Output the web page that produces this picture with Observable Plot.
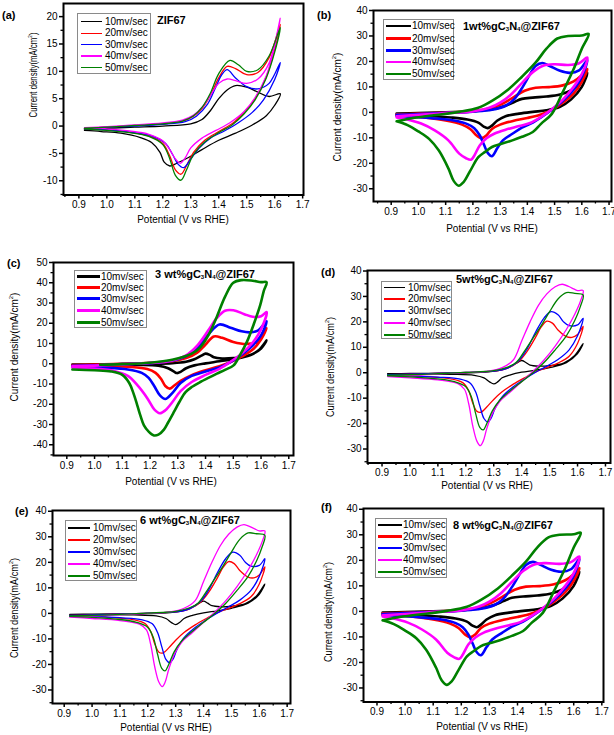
<!DOCTYPE html>
<html><head><meta charset="utf-8">
<script src="https://cdn.jsdelivr.net/npm/d3@7"></script>
<script src="https://cdn.jsdelivr.net/npm/@observablehq/plot@0.6"></script>
<style>
body{margin:0;background:#fff;overflow:hidden;font-family:"Liberation Sans",Arial,sans-serif;color:#000}
#root{position:relative;width:614px;height:735px;overflow:hidden;background:#fff}
.abs{position:absolute;white-space:nowrap;line-height:14px}
.lab{font-weight:bold;font-size:11px}
.ttl{font-weight:bold;font-size:11px}
.ttl sub{font-size:6px;vertical-align:-1px}
.axt{font-size:10px}
.lgbox{position:absolute;border:1px solid #8a8a8a;background:#fff;box-sizing:border-box}
.lgtxt{position:absolute;font-size:10px;line-height:12px;white-space:nowrap}
svg{overflow:visible}
</style></head><body><div id="root"></div>
<script>
// ---- labels ----
const rates = ["10mv/sec","20mv/sec","30mv/sec","40mv/sec","50mv/sec"];
const colors = ["#000000","#ff0000","#0000ff","#ff00ff","#008000"];
const xTicks = [0.9,1.0,1.1,1.2,1.3,1.4,1.5,1.6,1.7];
const xMinor = [0.85,0.95,1.05,1.15,1.25,1.35,1.45,1.55,1.65];
const yTicksA = [-10,-5,0,5,10,15,20];
const yMinorA = [-12.5,-7.5,-2.5,2.5,7.5,12.5,17.5];
const yTicks40 = [-30,-20,-10,0,10,20,30,40];
const yMinor40 = [-35,-25,-15,-5,5,15,25,35];
const yTicks50 = [-40,-30,-20,-10,0,10,20,30,40,50];
const yMinor50 = [-45,-35,-25,-15,-5,5,15,25,35,45];

// ---- (a) ZIF67 ----
const a10 = [[0.92,-0.6],[1.0,-0.4],[1.1,-0.2],[1.2,0.0],[1.3,0.4],[1.34,1.2],[1.37,2.8],[1.4,5.0],[1.43,6.6],[1.46,7.4],[1.5,7.1],[1.54,6.2],[1.58,5.4],[1.62,5.9],
  [1.6,3.8],[1.57,1.9],[1.52,0.2],[1.46,-1.3],[1.4,-2.6],[1.34,-4.3],[1.29,-5.8],[1.25,-6.8],[1.225,-7.3],[1.205,-6.6],[1.19,-4.8],[1.16,-3.0],[1.12,-2.1],[1.05,-1.3],[0.98,-1.0],[0.92,-0.8]];
const a20 = [[0.92,-0.4],[1.0,-0.2],[1.1,0.1],[1.2,0.4],[1.27,0.9],[1.31,1.8],[1.34,3.2],[1.37,5.6],[1.4,8.8],[1.43,10.9],[1.46,10.5],[1.5,9.4],[1.54,9.8],[1.58,12.5],[1.62,18.6],
  [1.6,14],[1.57,9],[1.53,5],[1.49,2.5],[1.45,0.5],[1.4,-1.0],[1.35,-2.6],[1.31,-4.8],[1.285,-7.2],[1.265,-8.8],[1.245,-8.0],[1.225,-5.5],[1.2,-3.2],[1.15,-1.8],[1.08,-1.1],[1.0,-0.7],[0.92,-0.5]];
const a30 = [[0.92,-0.4],[1.0,-0.2],[1.1,0.0],[1.2,0.3],[1.28,0.8],[1.32,1.8],[1.36,4.0],[1.39,7.2],[1.41,9.3],[1.43,10.3],[1.46,8.8],[1.5,7.2],[1.54,6.8],[1.58,7.8],[1.62,11.6],
  [1.6,8.5],[1.56,4.8],[1.52,2.5],[1.47,0.6],[1.42,-0.9],[1.37,-2.2],[1.33,-4.0],[1.3,-6.0],[1.275,-7.6],[1.255,-7.0],[1.235,-5.2],[1.21,-3.2],[1.16,-1.8],[1.08,-1.1],[1.0,-0.7],[0.92,-0.5]];
const a40 = [[0.92,-0.3],[1.0,-0.1],[1.1,0.2],[1.2,0.6],[1.27,1.1],[1.31,2.0],[1.34,3.4],[1.37,5.6],[1.4,7.8],[1.43,8.6],[1.46,8.3],[1.5,7.8],[1.54,8.6],[1.58,11.5],[1.62,19.7],
  [1.6,14.5],[1.57,9.2],[1.53,5.2],[1.49,2.6],[1.44,0.6],[1.39,-0.8],[1.34,-2.2],[1.3,-4.0],[1.28,-5.8],[1.263,-6.8],[1.245,-6.0],[1.225,-4.3],[1.2,-2.7],[1.15,-1.5],[1.08,-0.9],[1.0,-0.5],[0.92,-0.3]];
const a50 = [[0.92,-0.4],[1.0,-0.2],[1.1,0.1],[1.2,0.4],[1.27,0.9],[1.31,1.9],[1.34,3.4],[1.37,6.0],[1.4,9.6],[1.44,12.0],[1.47,11.2],[1.5,10.0],[1.54,10.3],[1.58,12.8],[1.62,18.0],
  [1.6,13.5],[1.57,8.8],[1.53,4.8],[1.49,2.2],[1.45,0.3],[1.4,-1.2],[1.35,-2.9],[1.31,-5.2],[1.285,-8.0],[1.265,-9.9],[1.245,-9.0],[1.225,-6.0],[1.2,-3.4],[1.15,-1.9],[1.08,-1.2],[1.0,-0.8],[0.92,-0.5]];

// ---- (b) and (f) 1wt% / 8wt% gC3N4@ZIF67 ----
const b10 = [[0.92,-0.5],[1.0,-0.3],[1.1,0.0],[1.2,0.4],[1.27,1.2],[1.32,2.6],[1.35,4.0],[1.38,5.3],[1.42,5.8],[1.47,6.2],[1.52,7.0],[1.56,8.6],[1.59,11.2],[1.62,15.5],
  [1.6,10],[1.56,5],[1.52,2.2],[1.47,0.8],[1.42,0.2],[1.37,-0.5],[1.32,-1.5],[1.29,-3.2],[1.27,-5.2],[1.255,-6.2],[1.24,-5.6],[1.22,-4.0],[1.18,-2.8],[1.12,-2.0],[1.04,-1.4],[0.92,-0.9]];
const b20 = [[0.92,-0.8],[1.0,-0.5],[1.1,-0.1],[1.2,0.5],[1.26,1.5],[1.31,3.5],[1.35,6.0],[1.39,8.5],[1.43,9.7],[1.48,9.9],[1.53,10.6],[1.57,12.2],[1.6,14.6],[1.62,17.0],
  [1.6,12],[1.57,7.5],[1.53,3.8],[1.49,1.0],[1.45,-0.8],[1.4,-2.2],[1.35,-3.3],[1.3,-4.8],[1.27,-6.5],[1.25,-9.0],[1.232,-10.1],[1.215,-9.2],[1.19,-6.5],[1.16,-4.8],[1.1,-3.2],[1.02,-2.0],[0.92,-1.2]];
const b30 = [[0.92,-1.0],[1.0,-0.7],[1.1,-0.2],[1.2,0.3],[1.27,1.0],[1.32,2.6],[1.35,5.0],[1.38,9.5],[1.41,15.0],[1.43,18.2],[1.455,19.4],[1.48,18.3],[1.52,16.3],[1.555,15.5],[1.59,16.5],[1.62,20.5],
  [1.6,14],[1.57,9],[1.53,4.5],[1.49,1.0],[1.45,-2.0],[1.42,-4.0],[1.38,-6.0],[1.345,-8.4],[1.31,-11],[1.29,-14],[1.27,-17.2],[1.255,-16],[1.24,-12.5],[1.225,-9],[1.205,-6.2],[1.18,-4.6],[1.13,-3.2],[1.05,-2.3],[0.98,-1.8],[0.92,-1.4]];
const b40 = [[0.92,-1.5],[1.0,-1.0],[1.1,-0.3],[1.2,0.4],[1.26,1.8],[1.3,3.8],[1.34,7.0],[1.38,11.5],[1.42,15.8],[1.46,18.4],[1.5,18.9],[1.55,18.6],[1.59,19.3],[1.62,21.5],
  [1.6,15],[1.57,10],[1.53,5],[1.49,1.2],[1.45,-1.8],[1.41,-4.2],[1.37,-5.4],[1.32,-6.8],[1.28,-8.3],[1.25,-10.2],[1.225,-13],[1.205,-17],[1.193,-18.6],[1.175,-18],[1.15,-16.2],[1.11,-11],[1.06,-7.1],[1.01,-4.4],[0.95,-2.6],[0.92,-2.0]];
const b50 = [[0.92,-3.5],[0.97,-2.4],[1.05,-1.2],[1.15,0.2],[1.22,1.8],[1.27,4.5],[1.33,9],[1.38,14],[1.43,19.5],[1.47,25],[1.51,29],[1.55,30],[1.6,30.2],[1.625,30.8],
  [1.6,25],[1.57,17],[1.53,8],[1.49,-0.6],[1.45,-4.5],[1.42,-7.7],[1.38,-9.6],[1.345,-11],[1.3,-12.5],[1.27,-13.6],[1.245,-15.5],[1.22,-17.6],[1.19,-23],[1.165,-27.5],[1.148,-28.8],[1.13,-27],[1.11,-22],[1.075,-15],[1.04,-10.5],[1.0,-7.5],[0.96,-5.0],[0.92,-3.5]];

// ---- (c) 3wt% gC3N4@ZIF67 ----
const c10 = [[0.92,-0.4],[1.0,-0.3],[1.1,-0.2],[1.2,0.0],[1.28,0.3],[1.33,1.0],[1.36,2.2],[1.385,4.0],[1.4,5.0],[1.415,4.4],[1.43,3.2],[1.46,2.6],[1.5,2.8],[1.55,3.8],[1.59,6.5],[1.62,11.5],
  [1.6,7.5],[1.56,4.2],[1.5,2.3],[1.45,1.2],[1.4,0.2],[1.36,-0.8],[1.33,-2.2],[1.31,-4.0],[1.298,-4.6],[1.285,-3.8],[1.265,-2.2],[1.23,-1.0],[1.15,-0.6],[1.0,-0.4],[0.92,-0.4]];
const c20 = [[0.92,-0.6],[1.0,-0.4],[1.1,0.0],[1.2,0.5],[1.28,1.2],[1.33,2.8],[1.37,5.5],[1.4,9.5],[1.43,13.5],[1.46,12.8],[1.5,10.8],[1.55,9.8],[1.59,11.2],[1.62,17.5],
  [1.6,12],[1.57,7],[1.53,3.5],[1.49,0.8],[1.45,-1.2],[1.4,-3.2],[1.35,-5.6],[1.31,-8.5],[1.285,-11],[1.271,-12.3],[1.255,-11],[1.24,-7.5],[1.22,-4.5],[1.19,-2.6],[1.12,-1.5],[1.02,-1.0],[0.92,-0.7]];
const c30 = [[0.92,-1.0],[1.0,-0.7],[1.1,-0.2],[1.2,0.3],[1.28,1.5],[1.33,3.8],[1.37,8.0],[1.41,14.5],[1.45,19.4],[1.49,17.8],[1.53,16.0],[1.56,15.5],[1.59,16.5],[1.62,21.0],
  [1.6,14],[1.57,9],[1.53,4.5],[1.49,0.8],[1.45,-1.8],[1.4,-3.8],[1.35,-6.0],[1.31,-9.5],[1.28,-14.5],[1.255,-17.4],[1.235,-15.5],[1.215,-11],[1.195,-7],[1.17,-4.5],[1.12,-2.8],[1.03,-1.9],[0.92,-1.4]];
const c40 = [[0.92,-1.3],[1.0,-0.9],[1.1,-0.3],[1.2,0.4],[1.28,1.6],[1.33,4.2],[1.37,9.0],[1.41,16.5],[1.44,22.5],[1.47,26.2],[1.5,26.4],[1.54,24.5],[1.57,23.2],[1.6,23.5],[1.62,25.5],
  [1.6,17],[1.57,10.5],[1.53,5.0],[1.49,1.0],[1.45,-2.5],[1.4,-5.5],[1.35,-9.0],[1.31,-13.5],[1.28,-19],[1.255,-23],[1.235,-24.4],[1.215,-22.5],[1.19,-17],[1.155,-10.7],[1.12,-6],[1.07,-3.6],[1.0,-2.4],[0.92,-1.8]];
const c50 = [[1.02,-0.5],[1.1,-0.2],[1.2,0.5],[1.28,2.0],[1.35,5],[1.38,8],[1.41,14],[1.44,23],[1.47,33],[1.5,40],[1.53,41.3],[1.57,41],[1.6,40.3],[1.62,40.3],
  [1.61,36],[1.597,28.9],[1.575,20],[1.549,10.8],[1.525,4.5],[1.501,-0.8],[1.47,-3.0],[1.441,-4.9],[1.41,-7.0],[1.381,-9.0],[1.35,-11.5],[1.328,-14],[1.305,-19],[1.286,-23.8],[1.265,-29],[1.25,-32.5],[1.23,-35],[1.214,-35.4],[1.195,-33.5],[1.178,-30.4],[1.165,-25.5],[1.154,-20.5],[1.14,-14.5],[1.125,-9.5],[1.1,-5.5],[1.06,-3.8],[1.0,-3.2],[0.92,-2.8]];

// ---- (d) and (e) 5wt% / 6wt% gC3N4@ZIF67 ----
const d10 = [[0.92,-0.4],[1.0,-0.3],[1.1,-0.2],[1.2,-0.1],[1.28,0.3],[1.33,1.2],[1.36,2.5],[1.385,4.0],[1.4,4.8],[1.415,4.0],[1.43,3.0],[1.46,2.6],[1.5,2.8],[1.55,3.8],[1.59,6.8],[1.62,11.5],
  [1.6,7.5],[1.56,4.0],[1.5,2.0],[1.45,1.0],[1.4,0.2],[1.36,-0.8],[1.33,-2.0],[1.315,-3.5],[1.3,-4.4],[1.285,-3.6],[1.265,-2.0],[1.23,-1.0],[1.15,-0.6],[1.0,-0.5],[0.92,-0.5]];
const d20 = [[0.92,-0.8],[1.0,-0.6],[1.1,-0.3],[1.2,0.1],[1.3,0.6],[1.35,1.8],[1.39,4.5],[1.42,8.5],[1.45,14],[1.47,18],[1.49,20.3],[1.51,19.5],[1.53,16.8],[1.56,14.2],[1.58,13.9],[1.6,15],[1.62,18.2],
  [1.6,11.5],[1.57,6.5],[1.53,3.8],[1.49,2.0],[1.45,0.3],[1.41,-2.0],[1.37,-4.5],[1.33,-7.5],[1.3,-10.5],[1.275,-13.5],[1.255,-15.5],[1.24,-15.2],[1.225,-12],[1.21,-7],[1.19,-4],[1.15,-2.5],[1.05,-1.5],[0.92,-1.0]];
const d30 = [[0.92,-0.8],[1.0,-0.6],[1.1,-0.3],[1.2,0.1],[1.3,0.6],[1.35,1.8],[1.39,4.8],[1.42,9.5],[1.45,16],[1.48,21.5],[1.505,24],[1.53,22.8],[1.55,20],[1.57,18.5],[1.6,18.8],[1.62,21.4],
  [1.6,14.5],[1.57,9],[1.53,5.2],[1.49,2.6],[1.45,0.2],[1.41,-2.5],[1.37,-5.5],[1.33,-9.5],[1.305,-14],[1.29,-18],[1.278,-19.3],[1.265,-18],[1.25,-13],[1.235,-7.5],[1.215,-4],[1.18,-2.5],[1.1,-1.7],[1.0,-1.2],[0.92,-1.0]];
const d40 = [[0.92,-1.5],[1.0,-1.1],[1.1,-0.5],[1.2,0.0],[1.28,0.6],[1.33,2.0],[1.37,5],[1.4,12.5],[1.43,20],[1.46,26.5],[1.49,31],[1.52,33.8],[1.545,34.8],[1.58,33.3],[1.6,32.3],[1.62,32.3],
  [1.61,28],[1.59,23],[1.56,17],[1.52,10.5],[1.48,5],[1.44,0.5],[1.4,-3.5],[1.36,-7.5],[1.32,-11.5],[1.295,-16],[1.275,-22],[1.262,-27],[1.252,-28.7],[1.24,-27],[1.225,-21],[1.21,-12],[1.195,-6.5],[1.17,-4.2],[1.1,-2.8],[1.0,-2.0],[0.92,-1.5]];
const d50 = [[0.92,-1.0],[1.0,-0.8],[1.1,-0.4],[1.2,0.1],[1.3,0.8],[1.35,2.2],[1.38,4],[1.41,8.5],[1.44,13.5],[1.47,18.5],[1.5,24],[1.53,29],[1.56,31.5],[1.59,31.2],[1.62,30.6],
  [1.61,26],[1.59,20.5],[1.56,14.5],[1.52,9],[1.48,4],[1.44,0],[1.4,-3.5],[1.36,-7],[1.32,-11],[1.295,-15],[1.275,-20],[1.262,-22.5],[1.25,-21.5],[1.235,-16],[1.22,-9.5],[1.2,-5.5],[1.16,-3.5],[1.1,-2.4],[1.0,-1.6],[0.92,-1.2]];

// ---- panel set-up (layout only) ----
const panels = [
  {tag:"(a)", title:"ZIF67", curves:[a10,a20,a30,a40,a50], yTicks:yTicksA, yMinor:yMinorA, sw:1.3,
   fl:63, fr:303, ft:3, fb:194.5, xd:[0.845,1.703], yd:[-12.6,22.4],
   tagPos:[2,8], titlePos:[157,13], xt:[183,220], yt:[32,75], ytSize:10, ytScale:0.78,
   lg:{l:77,t:13,w:74,h:61,rows:[21.7,33.3,44.5,56,67.5],x0:81,x1:102,tx:105}},
  {tag:"(b)", title:"1wt%gC<sub>3</sub>N<sub>4</sub>@ZIF67", curves:[b10,b20,b30,b40,b50], yTicks:yTicks40, yMinor:yMinor40, sw:2.6,
   fl:373, fr:611, ft:10, fb:201, xd:[0.835,1.709], yd:[-35,40],
   tagPos:[317,8], titlePos:[463,19], xt:[492,229], yt:[336,107], ytSize:10, ytScale:1,
   lg:{l:383,t:19,w:71,h:61,rows:[26,38.5,50.5,62,74],x0:386,x1:411,tx:412}},
  {tag:"(c)", title:"3 wt%gC<sub>3</sub>N<sub>4</sub>@ZIF67", curves:[c10,c20,c30,c40,c50], yTicks:yTicks50, yMinor:yMinor50, sw:2.6,
   fl:53, fr:293, ft:262, fb:455, xd:[0.852,1.717], yd:[-45.3,50],
   tagPos:[7,256], titlePos:[155,267], xt:[171,482], yt:[13,347], ytSize:10, ytScale:1,
   lg:{l:74,t:270,w:73,h:58,rows:[276.5,287.5,298.5,310.5,322.5],x0:77,x1:100,tx:101}},
  {tag:"(d)", title:"5wt%gC<sub>3</sub>N<sub>4</sub>@ZIF67", curves:[d10,d20,d30,d40,d50], yTicks:yTicks40, yMinor:yMinor40, sw:1.3,
   fl:367, fr:610, ft:269.5, fb:462, xd:[0.848,1.718], yd:[-35.5,40.2],
   tagPos:[321,265], titlePos:[456,272], xt:[487,486], yt:[329,367], ytSize:10, ytScale:0.92,
   lg:{l:381,t:281,w:71,h:58,rows:[287.5,299,311,323,335],x0:384,x1:405,tx:408}},
  {tag:"(e)", title:"6 wt%gC<sub>3</sub>N<sub>4</sub>@ZIF67", curves:[d10,d20,d30,d40,d50], yTicks:yTicks40, yMinor:yMinor40, sw:1.3,
   fl:52, fr:290, ft:510, fb:703, xd:[0.858,1.712], yd:[-35.3,40.3],
   tagPos:[15,504], titlePos:[140,513], xt:[166,728], yt:[13,608], ytSize:10, ytScale:0.92,
   lg:{l:65,t:520,w:72,h:61,rows:[528,540,552,564,576],x0:68,x1:90,tx:93}},
  {tag:"(f)", title:"8 wt%gC<sub>3</sub>N<sub>4</sub>@ZIF67", curves:[b10,b20,b30,b40,b50], yTicks:yTicks40, yMinor:yMinor40, sw:2.6,
   fl:363, fr:603, ft:507.5, fb:701, xd:[0.852,1.706], yd:[-35.5,40.3],
   tagPos:[321,500], titlePos:[453,518], xt:[482,727], yt:[327,612], ytSize:10, ytScale:0.92,
   lg:{l:375,t:518,w:72,h:60,rows:[525,536.5,548,560,572],x0:378,x1:402,tx:403}}
];

const root = document.getElementById("root");
const ML = 32, MR = 14, MT = 6, MB = 22;
const FONT = '"Liberation Sans", Arial, sans-serif';

function div(cls, html, css) {
  const d = document.createElement("div");
  d.className = cls; d.innerHTML = html;
  Object.assign(d.style, css);
  root.appendChild(d);
  return d;
}

for (const p of panels) {
  const data = p.curves.flatMap((c, i) => c.map(([x, y]) => ({x, y, s: rates[i]})));
  const W = p.fr - p.fl + ML + MR, H = p.fb - p.ft + MT + MB;
  const chart = Plot.plot({
    width: W, height: H,
    marginLeft: ML, marginRight: MR, marginTop: MT, marginBottom: MB,
    style: {fontFamily: FONT, fontSize: "10px", color: "#000", background: "transparent", overflow: "visible"},
    x: {domain: p.xd, label: null},
    y: {domain: p.yd, label: null},
    color: {domain: rates, range: colors},
    marks: [
      Plot.line(data, {x: "x", y: "y", z: "s", stroke: "s", strokeWidth: p.sw, curve: "catmull-rom", strokeLinejoin: "round"}),
      Plot.axisX({ticks: xTicks, tickSize: 4, tickPadding: 2, tickFormat: d => d.toFixed(1), label: null, strokeWidth: 1.5}),
      Plot.axisX({ticks: xMinor.filter(v => v > p.xd[0] && v < p.xd[1]), tickSize: 2.5, tickFormat: () => "", label: null, strokeWidth: 1.3}),
      Plot.axisY({ticks: p.yTicks, tickSize: 4, tickPadding: 2, tickFormat: d => String(d), label: null, strokeWidth: 1.5}),
      Plot.axisY({ticks: p.yMinor.filter(v => v > p.yd[0] && v < p.yd[1]), tickSize: 2.5, tickFormat: () => "", label: null, strokeWidth: 1.3}),
      Plot.frame({stroke: "#000", strokeWidth: 2})
    ]
  });
  chart.style.position = "absolute";
  chart.style.left = (p.fl - ML) + "px";
  chart.style.top = (p.ft - MT) + "px";
  root.appendChild(chart);

  // panel tag and title
  div("abs lab", p.tag, {left: p.tagPos[0] + "px", top: p.tagPos[1] + "px"});
  div("abs ttl", p.title, {left: p.titlePos[0] + "px", top: p.titlePos[1] + "px"});
  // axis titles
  div("abs axt", "Potential (V vs RHE)", {left: p.xt[0] + "px", top: p.xt[1] + "px", transform: "translate(-50%,-50%)"});
  div("abs axt", "Current density(mA/cm<sup style='font-size:6px'>2</sup>)", {left: p.yt[0] + "px", top: p.yt[1] + "px", fontSize: p.ytSize + "px", transform: `translate(-50%,-50%) rotate(-90deg) scaleX(${p.ytScale})`});
  // legend
  const lg = p.lg;
  div("lgbox", "", {left: lg.l + "px", top: lg.t + "px", width: lg.w + "px", height: lg.h + "px"});
  rates.forEach((r, i) => {
    const cy = lg.rows[i];
    div("abs", "", {left: lg.x0 + "px", top: (cy - p.sw / 2) + "px", width: (lg.x1 - lg.x0) + "px", height: p.sw + "px", background: colors[i], lineHeight: "0"});
    div("lgtxt", r, {left: lg.tx + "px", top: (cy - 6) + "px"});
  });
}
</script>
</body></html>
